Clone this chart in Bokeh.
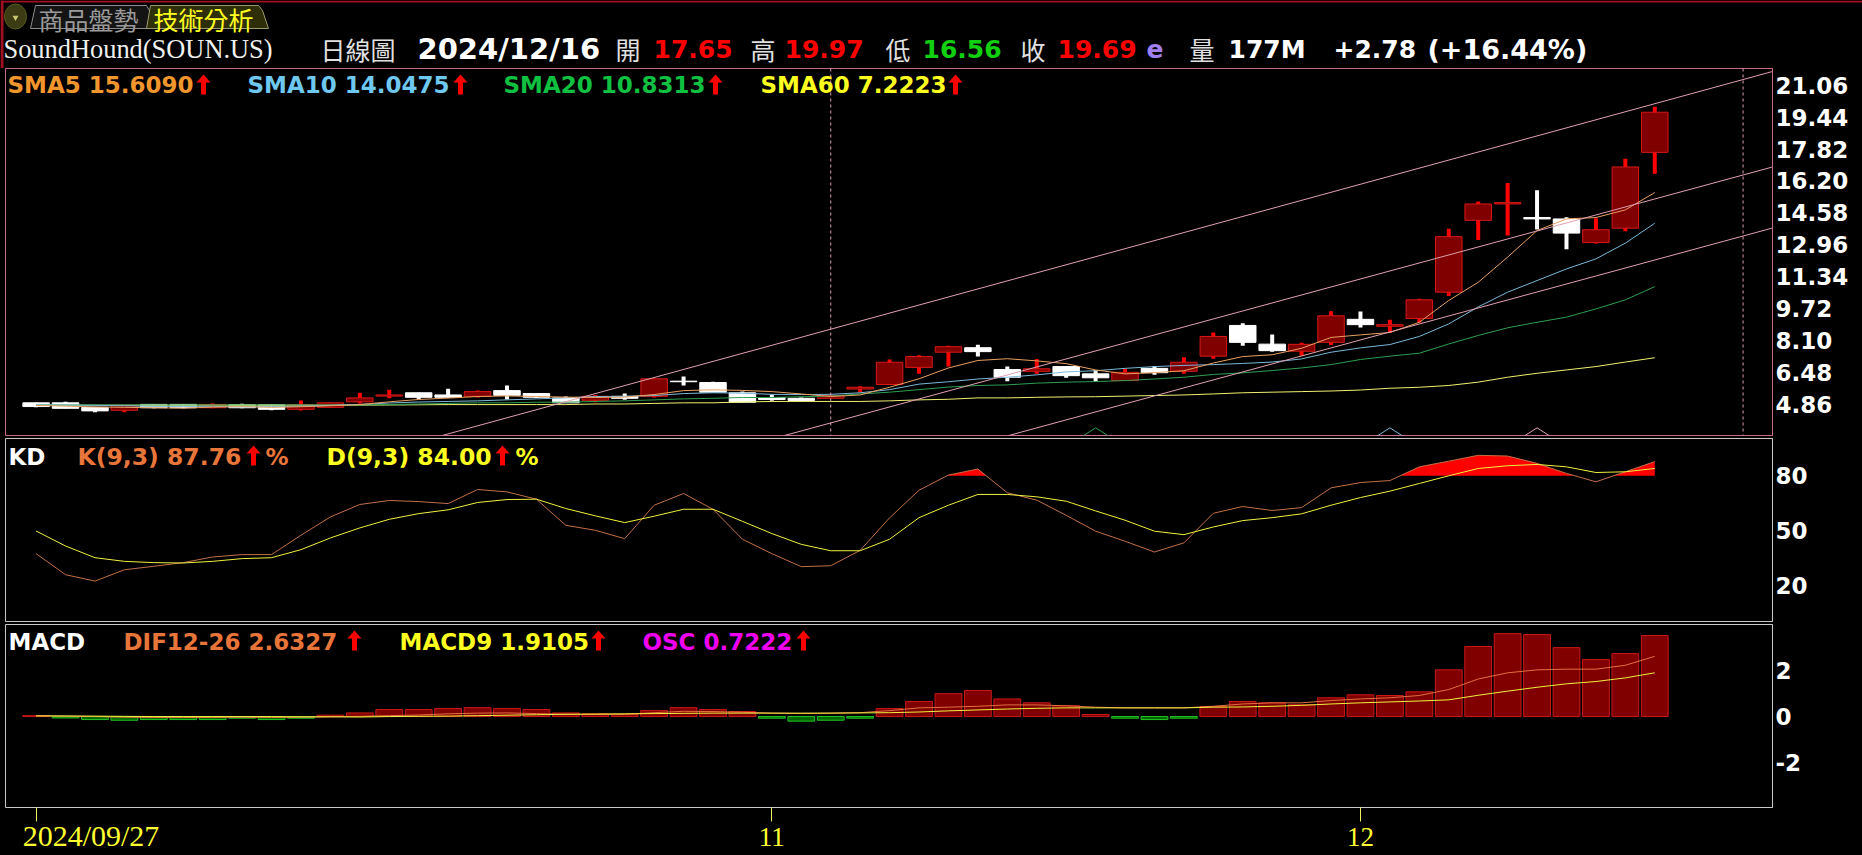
from bokeh.plotting import figure
from bokeh.layouts import column
from bokeh.models import Range1d, LinearAxis, FixedTicker, Label, Span, NumeralTickFormatter
from bokeh.embed import file_html
from bokeh.resources import INLINE

# ---------- data ----------
opens  = [4.93,4.93,4.70,4.55,4.85,4.85,4.68,4.83,4.83,4.60,4.70,4.98,5.27,5.44,5.33,5.26,5.55,5.40,5.18,5.06,5.26,5.26,6.03,5.96,5.44,5.20,5.16,5.16,5.63,5.86,6.73,7.50,7.73,6.62,6.53,6.77,6.40,6.06,6.68,6.53,7.30,8.86,7.91,7.55,8.00,9.17,8.82,9.21,10.55,14.20,15.03,14.34,14.27,13.07,13.80,17.65]
highs  = [4.93,4.98,4.72,4.80,4.87,4.87,4.90,4.88,4.83,5.05,4.93,5.44,5.60,5.44,5.64,5.55,5.81,5.40,5.25,5.33,5.40,6.17,6.27,6.00,5.50,5.35,5.20,5.30,5.77,7.13,7.35,7.83,7.88,6.77,7.15,6.77,6.60,6.65,6.80,7.24,8.50,8.97,8.40,7.98,9.58,9.57,9.15,10.22,13.77,15.15,16.10,15.72,14.36,14.30,17.33,19.97]
lows   = [4.70,4.65,4.45,4.45,4.66,4.66,4.66,4.66,4.55,4.54,4.70,4.90,5.16,5.11,5.20,5.20,5.10,5.18,4.93,4.96,5.08,5.20,5.81,5.47,4.96,5.04,5.00,5.16,5.47,5.86,6.40,6.77,7.28,6.03,6.40,6.20,6.00,6.06,6.35,6.40,7.17,7.83,7.53,7.32,7.87,8.76,8.49,9.00,10.36,13.20,13.43,13.73,12.73,13.02,13.65,16.56]
closes = [4.74,4.65,4.52,4.80,4.68,4.68,4.85,4.68,4.60,4.83,4.93,5.18,5.33,5.21,5.21,5.50,5.31,5.21,4.93,5.26,5.16,6.15,6.00,5.47,4.96,5.10,5.05,5.30,5.72,6.99,7.28,7.78,7.53,6.23,6.66,6.31,6.20,6.48,6.46,6.99,8.30,8.00,7.58,7.90,9.35,8.90,8.90,10.16,13.37,15.03,15.10,14.27,13.55,13.72,16.91,19.69]

sma5  = [4.80,4.76,4.72,4.70,4.68,4.66,4.71,4.74,4.70,4.73,4.78,4.84,4.98,5.10,5.17,5.25,5.28,5.25,5.22,5.20,5.22,5.35,5.55,5.59,5.56,5.50,5.38,5.25,5.33,5.72,6.15,6.70,7.08,7.17,7.06,6.92,6.60,6.40,6.46,6.56,6.95,7.28,7.37,7.70,8.25,8.38,8.50,9.02,10.13,11.05,12.33,13.68,14.27,14.34,14.73,15.61]
sma10 = [4.83,4.82,4.80,4.78,4.75,4.75,4.75,4.72,4.74,4.76,4.80,4.85,4.92,4.97,5.00,5.03,5.08,5.13,5.18,5.25,5.26,5.30,5.40,5.44,5.42,5.36,5.35,5.36,5.44,5.60,5.88,6.00,6.14,6.23,6.35,6.50,6.56,6.68,6.77,6.83,6.87,6.93,7.00,7.16,7.50,7.72,7.89,8.30,8.94,9.80,10.55,11.14,11.73,12.24,13.04,14.05]
sma20 = [4.82,4.82,4.82,4.82,4.82,4.82,4.82,4.82,4.82,4.82,4.82,4.82,4.84,4.87,4.90,4.93,4.93,4.96,4.96,5.00,5.03,5.08,5.13,5.16,5.20,5.20,5.24,5.27,5.38,5.47,5.60,5.73,5.81,5.84,5.93,5.98,6.01,6.06,6.14,6.23,6.37,6.45,6.57,6.70,6.87,7.13,7.30,7.45,7.92,8.35,8.74,9.02,9.28,9.70,10.16,10.83]
sma60 = [4.81,4.81,4.81,4.81,4.81,4.81,4.81,4.81,4.81,4.81,4.81,4.81,4.82,4.83,4.84,4.84,4.84,4.84,4.84,4.87,4.87,4.90,4.93,4.93,4.97,5.00,5.00,5.00,5.00,5.03,5.08,5.11,5.18,5.18,5.21,5.23,5.24,5.27,5.30,5.33,5.38,5.44,5.47,5.50,5.53,5.58,5.67,5.72,5.81,5.98,6.23,6.43,6.60,6.77,7.00,7.22]

k_line = [37.4,25.9,22.4,28.6,30.5,32.5,35.6,36.9,36.9,47.5,57.5,64.3,66.5,65.9,64.8,72.5,71.2,67.2,52.9,50.2,45.6,63.9,70.3,61.7,45.3,37.4,30.3,30.8,39.2,57.0,72.1,80.4,83.7,70.7,66.7,58.4,49.7,44.2,38.3,43.3,59.5,63.2,61.0,62.6,73.4,76.3,77.4,84.9,88.0,91.2,90.8,86.8,81.3,76.7,82.2,87.76]
d_line = [49.8,41.6,35.2,33.2,32.5,32.3,33.2,34.7,35.2,39.6,46.0,51.5,56.2,59.3,61.4,65.4,67.0,67.2,62.1,58.1,54.4,57.9,61.7,61.7,55.1,48.4,42.5,39.0,39.0,45.3,57.1,63.9,69.8,69.8,68.5,66.1,60.8,55.7,49.7,47.8,52.0,55.5,57.1,59.2,63.9,68.1,71.6,75.8,80.0,84.0,85.5,86.2,84.9,81.8,82.2,84.0]

osc  = [0.04,-0.06,-0.13,-0.16,-0.13,-0.13,-0.13,-0.07,-0.13,-0.07,0.06,0.16,0.31,0.31,0.35,0.39,0.35,0.31,0.16,0.12,0.10,0.26,0.39,0.31,0.22,-0.07,-0.20,-0.16,-0.07,0.35,0.66,1.00,1.14,0.77,0.60,0.47,0.09,-0.07,-0.13,-0.07,0.44,0.66,0.60,0.52,0.82,0.95,0.92,1.08,2.04,3.06,3.62,3.58,3.01,2.49,2.75,3.54]
dif  = [0.03,0.01,0.00,-0.03,-0.04,-0.04,-0.04,-0.03,-0.04,-0.03,-0.01,0.01,0.04,0.07,0.12,0.15,0.16,0.13,0.10,0.09,0.10,0.17,0.23,0.22,0.19,0.15,0.13,0.15,0.17,0.26,0.38,0.41,0.45,0.51,0.51,0.47,0.41,0.38,0.38,0.38,0.45,0.55,0.60,0.60,0.70,0.77,0.82,0.92,1.18,1.64,1.91,2.04,2.07,2.07,2.24,2.63]
macd9 = [0.03,0.03,0.02,0.01,0.00,0.00,0.00,0.00,0.00,-0.01,-0.01,-0.02,0.00,0.01,0.02,0.04,0.06,0.08,0.10,0.11,0.12,0.13,0.14,0.15,0.15,0.15,0.15,0.15,0.16,0.17,0.20,0.25,0.29,0.33,0.36,0.38,0.38,0.38,0.38,0.38,0.41,0.42,0.45,0.49,0.55,0.60,0.64,0.68,0.73,0.93,1.11,1.28,1.43,1.53,1.69,1.91]

price_ticks = [4.86,6.48,8.10,9.72,11.34,12.96,14.58,16.20,17.82,19.44,21.06]
kd_ticks = [20,50,80]
macd_ticks = [-2,0,2]
month_ticks = {25:"11",45:"12"}
first_date = "2024/09/27"
vlines = [27,58]
trend_top = ([13.8,58.98],[3.27,21.75])
trend_mid = ([25.43,58.98],[3.27,16.90])
trend_low = ([33.05,58.98],[3.27,13.80])
humps = [([35,36,37],[2.7,3.66,2.7],"#2e9e50"),([45,46,47],[2.7,3.66,2.7],"#7ab8d8"),([50,51,52],[2.7,3.66,2.7],"#e0a0b0")]

# ---------- layout ----------
W = 1862
LEFT, RIGHT = 5, 1772
X_RANGE = (-1.04, 59.0)
BLACK = "#000000"
BOLD = "DejaVu Sans"
SERIF = "Liberation Serif"
CJK = "Noto Sans CJK TC"
RED = "#ff0000"
n = len(closes)
idx = list(range(n))

def make_fig(h, top_px, bottom_px, yr, mtop, mbot):
    p = figure(width=W, height=h, output_backend="svg", toolbar_location=None,
               x_range=Range1d(*X_RANGE), y_range=Range1d(*yr),
               x_axis_location=None, y_axis_location=None,
               background_fill_color=BLACK, border_fill_color=BLACK,
               min_border_left=LEFT, min_border_right=W-RIGHT,
               min_border_top=mtop, min_border_bottom=mbot)
    p.grid.visible = False
    p.extra_x_ranges["px"] = Range1d(LEFT, RIGHT)
    p.extra_y_ranges["px"] = Range1d(bottom_px, top_px)
    return p

def put(p, x, y, t, color="#ffffff", size=24, font=BOLD, bold=True, align="left"):
    p.add_layout(Label(x=x, y=y, x_range_name="px", y_range_name="px", text=t, text_color=color,
                       text_font=font, text_font_size=f"{size}px",
                       text_font_style="bold" if bold else "normal",
                       text_align=align, text_baseline="middle"))

def arrow(p, x, y):
    p.patch([x+7, x+14, x+9.5, x+9.5, x+4.5, x+4.5, x],
            [y-10, y-2, y-2, y+10, y+10, y-2, y-2],
            x_range_name="px", y_range_name="px", fill_color=RED, line_color=None)

def right_axis(p, ticks, color, fmt=None, overrides=None):
    ax = LinearAxis(ticker=FixedTicker(ticks=ticks), axis_line_color=color,
                    major_tick_line_color=None, minor_tick_line_color=None,
                    major_tick_in=0, major_tick_out=0, minor_tick_in=0, minor_tick_out=0,
                    major_label_text_color="#ffffff", major_label_text_font=BOLD,
                    major_label_text_font_style="bold", major_label_text_font_size="23px",
                    major_label_standoff=3)
    if fmt:
        ax.formatter = NumeralTickFormatter(format=fmt)
    if overrides:
        ax.major_label_overrides = overrides
    p.add_layout(ax, "right")

def left_border(p):
    p.add_layout(Span(location=1.5, dimension="height", x_range_name="px", line_color="#a01020", line_width=3))

# ---------- header ----------
hd = figure(width=W, height=68, output_backend="svg", toolbar_location=None,
            x_range=Range1d(0, W), y_range=Range1d(68, 0),
            x_axis_location=None, y_axis_location=None,
            background_fill_color=BLACK, border_fill_color=BLACK,
            min_border_left=0, min_border_right=0, min_border_top=0, min_border_bottom=0,
            frame_align=False)
hd.outline_line_color = None
hd.grid.visible = False
hd.segment([0], [1], [W], [1], line_color="#a01020", line_width=2)
hd.segment([1.5], [0], [1.5], [68], line_color="#a01020", line_width=3)
hd.ellipse([15], [16], width=22, height=25, fill_color="#3c3c14", line_color="#5a5a20")
hd.scatter([15], [17], marker="inverted_triangle", size=6, fill_color="#c8c870", line_color=None)
hd.patch([30,35,146,150,148,30], [28,5,5,12,28,28], fill_color="#141414", line_color="#8c8c8c")
hd.patch([146,150,258,262,268,146], [28,5,5,10,28,28], fill_color="#2e2e08", line_color="#9a9a70")
def hput(x, t, color="#ffffff", size=24, font=BOLD, bold=True, y=48.5):
    hd.add_layout(Label(x=x, y=y, text=t, text_color=color, text_font=font,
                        text_font_size=f"{size}px", text_font_style="bold" if bold else "normal",
                        text_align="left", text_baseline="middle"))
hput(38, "商品盤勢", "#9a9a9a", 25, CJK, False, 18)
hput(153, "技術分析", "#ffff20", 25, CJK, False, 18)
hput(3, "SoundHound(SOUN.US)", "#f0f0f0", 26.4, SERIF, False)
hput(320, "日線圖", "#e0e0e0", 25, CJK, False)
hput(417, "2024/12/16", "#ffffff", 29)
hput(615, "開", "#e0e0e0", 25, CJK, False)
hput(653, "17.65", RED, 25)
hput(750, "高", "#e0e0e0", 25, CJK, False)
hput(784, "19.97", RED, 25)
hput(885, "低", "#e0e0e0", 25, CJK, False)
hput(922, "16.56", "#10d010", 25)
hput(1020, "收", "#e0e0e0", 25, CJK, False)
hput(1057, "19.69", RED, 25)
hput(1146, "e", "#a080f0", 25)
hput(1189, "量", "#e0e0e0", 25, CJK, False)
hput(1228, "177M", "#ffffff", 25)
hput(1333, "+2.78", "#ffffff", 25)
hput(1427, "(+16.44%)", "#ffffff", 27)

# ---------- main ----------
PINK = "#c86a8c"
mn = make_fig(368, 68, 435, (3.27, 21.91), 0, 1)
mn.outline_line_color = PINK
right_axis(mn, price_ticks, PINK, "0.00")
left_border(mn)
up = [i for i in idx if closes[i] >= opens[i]]
dn = [i for i in idx if closes[i] < opens[i]]
mn.segment([idx[i] for i in up], [highs[i] for i in up], [idx[i] for i in up], [lows[i] for i in up], line_color=RED, line_width=4)
mn.segment([idx[i] for i in dn], [highs[i] for i in dn], [idx[i] for i in dn], [lows[i] for i in dn], line_color="#ffffff", line_width=4)
mn.vbar([idx[i] for i in up], 0.9, [opens[i] for i in up], [closes[i] for i in up], fill_color="#800000", line_color="#d81818")
mn.vbar([idx[i] for i in dn], 0.9, [closes[i] for i in dn], [opens[i] for i in dn], fill_color="#ffffff", line_color="#ffffff")
for xs, ys, c in humps:
    mn.line(xs, ys, line_color=c, line_width=1)
mn.line(idx, sma60, line_color="#f0f070", line_width=1)
mn.line(idx, sma20, line_color="#2e9e50", line_width=1)
mn.line(idx, sma10, line_color="#7ab8d8", line_width=1)
mn.line(idx, sma5, line_color="#e8a060", line_width=1)
for tr in (trend_top, trend_mid, trend_low):
    mn.line(tr[0], tr[1], line_color="#e0a0b0", line_width=1)
for v in vlines:
    mn.add_layout(Span(location=v, dimension="height", line_color="#e0a0b0", line_width=1, line_dash="3 3"))
put(mn, 7, 84, "SMA5 15.6090", "#f0962d", 23)
arrow(mn, 196, 84)
put(mn, 247, 84, "SMA10 14.0475", "#6ec8f0", 23)
arrow(mn, 453, 84)
put(mn, 503, 84, "SMA20 10.8313", "#10c040", 23)
arrow(mn, 708, 84)
put(mn, 760, 84, "SMA60 7.2223", "#ffff20", 23)
arrow(mn, 948, 84)

# ---------- KD ----------
GREY = "#c8c8c8"
kd = make_fig(186, 438, 621, (0.3, 100.4), 2, 1)
kd.outline_line_color = GREY
right_axis(kd, kd_ticks, GREY)
left_border(kd)
fx, fy = [], []
for i in idx:
    if i > 0 and (k_line[i-1]-80)*(k_line[i]-80) < 0:
        fx.append(i-1 + (80-k_line[i-1])/(k_line[i]-k_line[i-1])); fy.append(80)
    fx.append(i); fy.append(max(k_line[i], 80))
kd.varea(fx, [80]*len(fx), fy, fill_color=RED)
kd.line(idx, k_line, line_color="#c07048", line_width=1)
kd.line(idx, d_line, line_color="#f0f040", line_width=1)
put(kd, 8, 456, "KD", "#ffffff", 23)
put(kd, 77, 456, "K(9,3) 87.76", "#e8763a", 23.5)
arrow(kd, 246, 455)
put(kd, 265, 456, "%", "#e8763a", 23)
put(kd, 326, 456, "D(9,3) 84.00", "#ffff20", 23.5)
arrow(kd, 495, 455)
put(kd, 515, 456, "%", "#ffff20", 23)

# ---------- MACD ----------
mc = make_fig(233, 624, 807, (-3.97, 4.02), 2, 48)
mc.outline_line_color = GREY
right_axis(mc, macd_ticks, GREY, overrides={-2:"-2"})
left_border(mc)
pos = [i for i in idx if osc[i] >= 0]
neg = [i for i in idx if osc[i] < 0]
mc.vbar(pos, 0.91, [0]*len(pos), [osc[i] for i in pos], fill_color="#800000", line_color="#c81818")
mc.vbar(neg, 0.91, [0]*len(neg), [osc[i] for i in neg], fill_color="#006400", line_color="#22c422")
mc.line(idx, dif, line_color="#e07040", line_width=1)
mc.line(idx, macd9, line_color="#f0f040", line_width=1)
xax = LinearAxis(ticker=FixedTicker(ticks=[0]+list(month_ticks)), major_label_overrides={0:"", **month_ticks},
                 axis_line_color=None, major_tick_line_color="#f0f060", major_tick_in=0, major_tick_out=14,
                 minor_tick_line_color=None, major_label_text_color="#ffff30",
                 major_label_text_font=SERIF, major_label_text_font_size="27px", major_label_standoff=6)
mc.add_layout(xax, "below")
# the first date sits to the right of its tick: a second tick-less axis on the same row carries it
dax = LinearAxis(x_range_name="px", ticker=FixedTicker(ticks=[90.5]), major_label_overrides={90.5:first_date},
                 axis_line_color=None, major_tick_line_color=None, major_tick_in=0, major_tick_out=0,
                 minor_tick_line_color=None, minor_tick_in=0, minor_tick_out=0,
                 major_label_text_color="#ffff30", major_label_text_font=SERIF,
                 major_label_text_font_size="30px", major_label_standoff=-30)
mc.add_layout(dax, "below")
put(mc, 8, 641, "MACD", "#ffffff", 23)
put(mc, 123, 641, "DIF12-26 2.6327", "#e8763a", 23)
arrow(mc, 347, 640)
put(mc, 399, 641, "MACD9 1.9105", "#ffff20", 23)
arrow(mc, 591, 640)
put(mc, 642, 641, "OSC 0.7222", "#f000f0", 23)
arrow(mc, 796, 640)

root = column(hd, mn, kd, mc, spacing=0, styles={"position":"fixed","left":"0px","top":"0px","background":"#000000"})
open("out.html", "w").write(file_html(root, INLINE))
